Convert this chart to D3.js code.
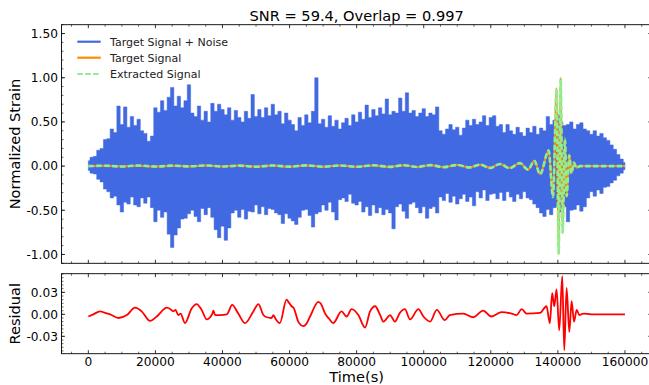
<!DOCTYPE html>
<html><head><meta charset="utf-8">
<script src="https://cdn.jsdelivr.net/npm/d3@7"></script>
<style>html,body{margin:0;padding:0;background:#fff;} svg{display:block;font-family:"DejaVu Sans",sans-serif;}</style>
</head><body><svg id="c" width="649" height="385"></svg>
<script>
// ---------------- DATA ----------------
const titleText = "SNR = 59.4, Overlap = 0.997";
const noiseStart = 0, noiseStep = 1000;
const noiseUpper = [0.06,0.10,0.11,0.18,0.20,0.30,0.31,0.42,0.38,0.68,0.47,0.67,0.44,0.56,0.46,0.53,0.40,0.37,0.28,0.34,
 0.66,0.61,0.74,0.63,0.78,0.89,0.68,0.79,0.66,0.74,0.92,0.60,0.56,0.68,0.52,0.62,0.50,0.71,0.62,0.70,
 0.64,0.58,0.66,0.52,0.63,0.55,0.50,0.62,0.54,0.81,0.56,0.64,0.55,0.66,0.57,0.70,0.58,0.62,0.48,0.60,
 0.52,0.47,0.40,0.55,0.46,0.58,0.49,0.62,1.00,0.48,0.53,0.44,0.57,0.45,0.52,0.42,0.49,0.54,0.46,0.58,
 0.50,0.61,0.53,0.69,0.55,0.64,0.57,0.66,0.59,0.76,0.58,0.62,0.60,0.77,0.62,0.83,0.60,0.63,0.56,0.60,
 0.65,0.56,0.60,0.58,0.67,0.40,0.36,0.42,0.47,0.41,0.44,0.35,0.43,0.52,0.46,0.53,0.47,0.50,0.57,0.46,
 0.55,0.57,0.45,0.47,0.38,0.47,0.40,0.36,0.44,0.38,0.34,0.43,0.38,0.45,0.36,0.43,0.40,0.56,0.47,0.52,
 0.58,0.50,0.46,0.47,0.50,0.42,0.47,0.49,0.42,0.40,0.36,0.40,0.34,0.37,0.32,0.29,0.24,0.19,0.13,0.08,0.04];
const noiseLower = [-0.05,-0.08,-0.09,-0.15,-0.18,-0.26,-0.29,-0.36,-0.34,-0.44,-0.52,-0.41,-0.43,-0.35,-0.44,-0.46,-0.36,-0.42,-0.35,-0.47,
 -0.63,-0.50,-0.58,-0.52,-0.77,-0.92,-0.78,-0.70,-0.60,-0.59,-0.54,-0.50,-0.57,-0.63,-0.48,-0.55,-0.47,-0.58,-0.72,-0.81,
 -0.68,-0.84,-0.70,-0.53,-0.50,-0.58,-0.49,-0.60,-0.51,-0.52,-0.44,-0.54,-0.46,-0.55,-0.48,-0.49,-0.53,-0.55,-0.65,-0.54,
 -0.59,-0.62,-0.66,-0.58,-0.50,-0.49,-0.56,-0.69,-0.54,-0.52,-0.44,-0.50,-0.41,-0.52,-0.61,-0.38,-0.36,-0.40,-0.32,-0.42,
 -0.44,-0.40,-0.52,-0.46,-0.56,-0.44,-0.53,-0.47,-0.55,-0.49,-0.53,-0.71,-0.46,-0.43,-0.51,-0.59,-0.43,-0.41,-0.47,-0.53,
 -0.46,-0.59,-0.48,-0.46,-0.53,-0.35,-0.39,-0.31,-0.41,-0.34,-0.43,-0.37,-0.32,-0.40,-0.35,-0.45,-0.29,-0.36,-0.27,-0.39,
 -0.32,-0.31,-0.37,-0.30,-0.39,-0.29,-0.35,-0.40,-0.32,-0.37,-0.29,-0.36,-0.38,-0.43,-0.47,-0.53,-0.57,-0.49,-0.55,-0.47,
 -0.45,-0.52,-0.46,-0.63,-0.50,-0.49,-0.44,-0.51,-0.46,-0.36,-0.29,-0.34,-0.27,-0.31,-0.24,-0.23,-0.19,-0.16,-0.11,-0.08,-0.04];

const targetT = [0,5000,10000,15000,20000,25000,30000,35000,40000,45000,50000,55000,60000,65000,70000,75000,80000,85000,90000,94000,
 98000,102000,106000,110000,113700,116800,119800,122700,125600,128700,131100,133000,134700,137250,138530,139630,140230,140820,141420,142110,
 142610,143390,144040,144790,145530,146570,160000];
const targetV = [0,0.005,-0.004,0.005,-0.006,0.004,-0.004,0.006,-0.005,0.006,-0.006,0.006,-0.007,0.007,-0.007,0.008,-0.008,0.008,-0.009,0.009,
 -0.01,0.01,-0.011,0.012,-0.014,0.016,-0.02,0.025,-0.022,0.035,-0.04,0.06,-0.09,0.18,-0.34,0.88,-1.0,1.0,-0.76,0.30,
 -0.35,0.13,-0.08,0.04,-0.02,0,0];
const extractedV = [0,0.004,-0.005,0.006,-0.005,0.005,-0.003,0.007,-0.005,0.005,-0.007,0.006,-0.006,0.008,-0.007,0.007,-0.008,0.009,-0.009,0.010,
 -0.01,0.011,-0.012,0.012,-0.015,0.016,-0.021,0.024,-0.023,0.034,-0.04,0.058,-0.092,0.175,-0.35,0.87,-0.99,0.99,-0.75,0.31,
 -0.34,0.12,-0.08,0.04,-0.02,0,0];

const residualT = [0,1500,3500,5000,6500,9000,11500,13900,15900,18400,20400,23400,24500,25300,26000,26800,27500,28800,30800,32300,
 33800,35300,36300,37000,37300,37800,39300,41300,42900,44700,46700,49200,50700,52200,53200,54600,55200,55800,57100,59100,
 59800,60600,61200,62600,64100,65000,66100,68600,69400,70600,71800,73000,75500,77000,78500,80500,82500,84000,85500,87000,
 88000,90000,90500,91400,92900,94400,95900,98400,99900,101900,103900,106300,107800,111800,114800,117700,120200,123200,126200,127700,
 129200,130700,134700,136600,137600,138300,138900,139600,140400,141300,141900,142600,143400,144100,144800,145600,146400,147600,150000,160000];
const residualV = [-0.003,0,0.004,0.002,0,-0.005,-0.001,0.009,0.004,-0.009,-0.003,0.009,0.007,0.004,0.006,-0.001,0.001,-0.012,0.008,0.014,
 0.006,-0.007,-0.004,0.001,0.005,-0.001,-0.001,0,0.013,0.001,-0.012,0.004,0.014,-0.001,-0.004,-0.005,-0.001,-0.006,-0.012,0.020,
 0.016,0.011,0.009,-0.010,-0.016,-0.013,-0.003,0.017,0.014,0.001,-0.006,-0.012,0.004,-0.003,0.007,-0.001,-0.018,0.004,0.011,-0.001,
 -0.010,-0.001,-0.004,-0.010,0.002,0.007,-0.007,0.007,-0.003,-0.010,0.006,-0.008,-0.001,0.001,-0.004,0.005,-0.003,0.003,0.001,-0.001,
 0.007,0.001,0.002,0.011,-0.012,0.029,0.011,0.034,-0.022,0.052,-0.049,0.036,-0.024,0.018,-0.010,0.006,-0.001,0.001,0,0];

const xTickValues = [0,20000,40000,60000,80000,100000,120000,140000,160000];
const strainTickValues = [-1.0,-0.5,0,0.5,1.0,1.5];
const residualTickValues = [-0.03,0,0.03];
const legendLabels = ["Target Signal + Noise","Target Signal","Extracted Signal"];
const colors = {noise:"#4169e1", target:"#ff8c00", extracted:"#90ee90", residual:"#ff0000"};

// ---------------- LAYOUT ----------------
const svg = d3.select("#c");
const L = 61.5, R = 651.8;
const top1 = 24.7, bot1 = 263.3, top2 = 273.7, bot2 = 353.7;
const x = d3.scaleLinear().domain([-8000,168000]).range([L,R]);
const y1 = d3.scaleLinear().domain([-1.1,1.6]).range([bot1,top1]);
const y2 = d3.scaleLinear().domain([-0.0537,0.0554]).range([bot2,top2]);
const fmtY = v => (v<0?"-":"") + Math.abs(v).toFixed(2);

const defs = svg.append("defs");
defs.append("clipPath").attr("id","cp1").append("rect").attr("x",L).attr("y",top1).attr("width",R-L).attr("height",bot1-top1);
defs.append("clipPath").attr("id","cp2").append("rect").attr("x",L).attr("y",top2).attr("width",R-L).attr("height",bot2-top2);

// top panel
const g1 = svg.append("g").attr("clip-path","url(#cp1)");
const noiseData = noiseUpper.map((u,i)=>({t:noiseStart+i*noiseStep,u:u,l:noiseLower[i]}));
g1.append("path").datum(noiseData)
  .attr("d", d3.area().x(d=>x(d.t)).y0(d=>y1(d.l)).y1(d=>y1(d.u)).curve(d3.curveStep))
  .attr("fill",colors.noise).attr("stroke",colors.noise).attr("stroke-width",0.5);
const tData = targetT.map((t,i)=>({t:t,v:targetV[i]}));
const eData = targetT.map((t,i)=>({t:t,v:extractedV[i]}));
const line1 = d3.line().x(d=>x(d.t)).y(d=>y1(d.v)).curve(d3.curveMonotoneX);
g1.append("path").datum(tData).attr("d",line1).attr("fill","none").attr("stroke",colors.target).attr("stroke-width",2);
g1.append("path").datum(eData).attr("d",line1).attr("fill","none").attr("stroke",colors.extracted).attr("stroke-width",2.6).attr("stroke-dasharray","5.5,2.4");

// bottom panel
const g2 = svg.append("g").attr("clip-path","url(#cp2)");
const rData = residualT.map((t,i)=>({t:t,v:residualV[i]}));
g2.append("path").datum(rData)
  .attr("d", d3.line().x(d=>x(d.t)).y(d=>y2(d.v)).curve(d3.curveMonotoneX))
  .attr("fill","none").attr("stroke",colors.residual).attr("stroke-width",1.8);

// frames & ticks
function frame(top,bot,yScale,major,minorStep,minorLo,minorHi,labels){
  const g = svg.append("g");
  g.append("rect").attr("x",L).attr("y",top).attr("width",R-L).attr("height",bot-top)
   .attr("fill","none").attr("stroke","#000").attr("stroke-width",0.9);
  for(let t=-5000;t<=165000;t+=5000){
    const isMaj = t%20000===0 && t>=0;
    const len = isMaj?3.5:2, w = isMaj?0.8:0.6;
    const xx = x(t);
    g.append("line").attr("x1",xx).attr("x2",xx).attr("y1",bot).attr("y2",bot-len).attr("stroke","#000").attr("stroke-width",w);
    g.append("line").attr("x1",xx).attr("x2",xx).attr("y1",top).attr("y2",top+len).attr("stroke","#000").attr("stroke-width",w);
  }
  const nMin = Math.round((minorHi-minorLo)/minorStep);
  for(let i=0;i<=nMin;i++){
    const v = minorLo + i*minorStep;
    const yy = yScale(v);
    if(yy<top-0.1||yy>bot+0.1) continue;
    g.append("line").attr("x1",L).attr("x2",L+2).attr("y1",yy).attr("y2",yy).attr("stroke","#000").attr("stroke-width",0.6);
    g.append("line").attr("x1",R).attr("x2",R-2).attr("y1",yy).attr("y2",yy).attr("stroke","#000").attr("stroke-width",0.6);
  }
  major.forEach(v=>{
    const yy = yScale(v);
    g.append("line").attr("x1",L).attr("x2",L+3.5).attr("y1",yy).attr("y2",yy).attr("stroke","#000").attr("stroke-width",0.8);
    g.append("line").attr("x1",R).attr("x2",R-3.5).attr("y1",yy).attr("y2",yy).attr("stroke","#000").attr("stroke-width",0.8);
    g.append("text").attr("x",L-3.5).attr("y",yy).attr("dy","0.36em").attr("text-anchor","end")
     .attr("font-size","12.2px").attr("fill","#000").text(fmtY(v));
  });
  if(labels){
    xTickValues.forEach(t=>{
      g.append("text").attr("x",x(t)).attr("y",bot+11.8).attr("text-anchor","middle")
       .attr("font-size","12.2px").attr("fill","#000").text(String(t));
    });
  }
}
frame(top1,bot1,y1,strainTickValues,0.1,-1.1,1.6,false);
frame(top2,bot2,y2,residualTickValues,0.005,-0.05,0.055,true);

// title and labels
svg.append("text").attr("x",(L+R)/2).attr("y",20.5).attr("text-anchor","middle").attr("font-size","14.6px").text(titleText);
svg.append("text").attr("transform",`translate(19.5,${(top1+bot1)/2}) rotate(-90)`).attr("text-anchor","middle").attr("font-size","14.6px").text("Normalized Strain");
svg.append("text").attr("transform",`translate(19.5,${(top2+bot2)/2}) rotate(-90)`).attr("text-anchor","middle").attr("font-size","14.6px").text("Residual");
svg.append("text").attr("x",(L+R)/2).attr("y",381.6).attr("text-anchor","middle").attr("font-size","14.6px").text("Time(s)");

// legend
const lg = svg.append("g");
const legColors = [colors.noise, colors.target, colors.extracted];
const legY = [41.7,57.7,74];
legendLabels.forEach((lab,i)=>{
  const ln = lg.append("line").attr("x1",77.3).attr("x2",100.7).attr("y1",legY[i]).attr("y2",legY[i])
    .attr("stroke",legColors[i]).attr("stroke-width",2.2);
  if(i===2) ln.attr("stroke-dasharray","5.5,2.4");
  lg.append("text").attr("x",110).attr("y",legY[i]).attr("dy","0.36em").attr("font-size","11px").attr("fill","#222").text(lab);
});
</script></body></html>
